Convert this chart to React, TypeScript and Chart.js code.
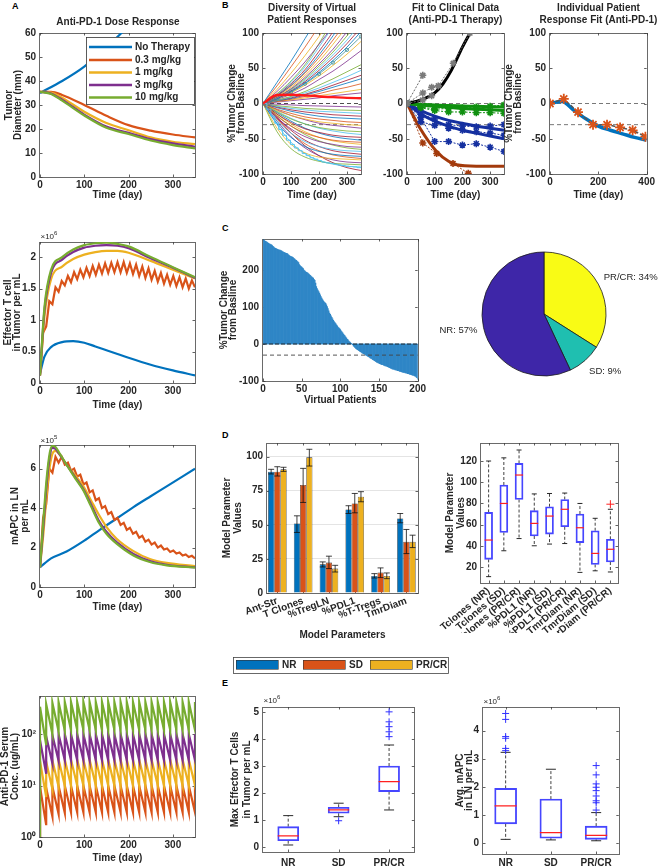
import React, { useEffect, useRef } from 'react';
import { Chart, registerables } from 'chart.js';

Chart.register(...registerables);

const FONT = '"Liberation Sans", Arial, Helvetica, sans-serif';
const INK = '#262626';
Chart.defaults.font.family = FONT;
Chart.defaults.font.size = 10;
Chart.defaults.font.weight = 'bold';
Chart.defaults.color = INK;
Chart.defaults.plugins.legend.display = false;
Chart.defaults.plugins.tooltip.enabled = false;

/* ===================== DATA ===================== */
// Panel A
const doseLabels = ['No Therapy', '0.3 mg/kg', '1 mg/kg', '3 mg/kg', '10 mg/kg'];
const doseColors = ['#0072BD', '#D95319', '#EDB120', '#7E2F8E', '#77AC30'];
const tumorDaysNoTx = [0, 50, 100, 150, 200, 250, 300, 350];
const tumorNoTherapy = [35, 40, 46, 54, 63, 73, 84, 96];
const tumorDays = [0, 25, 50, 100, 150, 200, 250, 300, 350];
const tumor03 = [35.5, 35.5, 34.2, 30, 25.5, 21.6, 19.3, 17.7, 16.5];
const tumor1 = [35.5, 35.2, 33, 27.2, 22.5, 19.5, 16.5, 14.7, 13.7];
const tumor3 = [35.5, 34.8, 32.2, 26, 21, 18.4, 15.8, 14, 12.6];
const tumor10 = [35.5, 34.6, 31.8, 25.6, 20.5, 17.9, 15.2, 13.3, 11.9];

const effDays = [0, 10, 25, 50, 75, 100, 125, 150, 175, 200, 250, 300, 350];
const effNoTherapy = [0.15, 0.42, 0.57, 0.65, 0.665, 0.64, 0.58, 0.52, 0.46, 0.4, 0.29, 0.2, 0.12];
const eff1 = [0.12, 1.05, 1.65, 1.85, 1.97, 2.04, 2.08, 2.1, 2.1, 2.07, 1.94, 1.8, 1.66];
const eff3 = [0.12, 1.15, 1.75, 1.96, 2.08, 2.15, 2.18, 2.19, 2.18, 2.14, 1.98, 1.83, 1.67];
const eff10 = [0.12, 1.2, 1.8, 2.0, 2.12, 2.19, 2.22, 2.23, 2.21, 2.17, 2.0, 1.84, 1.68];
const weekDays = [0, 7, 14, 21, 28, 35, 42, 49, 56, 63, 70, 77, 84, 91, 98, 105, 112, 119, 126, 133, 140, 147, 154, 161, 168, 175, 182, 189, 196, 203, 210, 217, 224, 231, 238, 245, 252, 259, 266, 273, 280, 287, 294, 301, 308, 315, 322, 329, 336, 343, 350];
const eff03 = [0.12, 0.8, 0.9, 1.3, 1.25, 1.52, 1.45, 1.62, 1.55, 1.7, 1.6, 1.76, 1.65, 1.8, 1.68, 1.83, 1.7, 1.86, 1.72, 1.88, 1.74, 1.9, 1.75, 1.91, 1.76, 1.92, 1.76, 1.92, 1.75, 1.9, 1.73, 1.88, 1.7, 1.85, 1.67, 1.82, 1.64, 1.78, 1.61, 1.75, 1.58, 1.72, 1.56, 1.7, 1.54, 1.68, 1.52, 1.66, 1.5, 1.63, 1.52];

const apcDaysNoTx = [0, 25, 60, 100, 135, 175, 211, 250, 286, 350];
const apcNoTherapy = [1.0, 1.45, 1.8, 2.35, 2.9, 3.5, 4.05, 4.6, 5.1, 6.0];
const apcDays = [0, 8, 15, 22, 28, 35, 45, 60, 80, 98, 115, 132, 150, 173, 211, 248, 286, 350];
const apc1 = [1.0, 2.8, 4.7, 6.1, 6.75, 6.9, 6.7, 6.2, 5.65, 5.1, 4.4, 3.7, 3.05, 2.45, 1.82, 1.42, 1.22, 1.06];
const apc3 = [1.0, 3.2, 5.2, 6.6, 7.05, 7.0, 6.7, 6.2, 5.55, 4.95, 4.2, 3.4, 2.8, 2.28, 1.68, 1.32, 1.13, 1.0];
const apc10 = [1.0, 3.5, 5.5, 6.8, 7.15, 7.1, 6.75, 6.2, 5.5, 4.9, 4.1, 3.3, 2.7, 2.2, 1.6, 1.27, 1.1, 0.98];
const apc03 = [1.0, 3.5, 4.2, 6.0, 5.8, 6.6, 6.3, 6.6, 6.2, 6.3, 5.9, 6.0, 5.6, 5.7, 5.2, 5.3, 4.8, 4.9, 4.4, 4.5, 4.0, 4.1, 3.7, 3.8, 3.4, 3.5, 3.15, 3.25, 2.9, 3.0, 2.7, 2.8, 2.5, 2.6, 2.3, 2.4, 2.15, 2.25, 2.0, 2.1, 1.9, 1.95, 1.78, 1.85, 1.7, 1.75, 1.6, 1.65, 1.52, 1.58, 1.45];

const serumDoseDays = [0, 14, 28, 42, 56, 70, 84, 98, 112, 126, 140, 154, 168, 182, 196, 210, 224, 238, 252, 266, 280, 294, 308, 322, 336, 350];
const serumStart = 1;
const serumPeak03 = [9.5, 9, 9.5, 9.8, 10, 10, 10, 10, 10, 10, 10, 10, 10, 10, 10, 10, 10, 10, 10, 10, 10, 10, 10, 10, 10, 10];
const serumTrough03 = [1.7, 2.5, 2.8, 2.95, 3, 3, 3, 3, 3, 3, 3, 3, 3, 3, 3, 3, 3, 3, 3, 3, 3, 3, 3, 3, 3];
const serumPeak1 = [30, 29, 31, 32, 32, 32, 32, 32, 32, 32, 32, 32, 32, 32, 32, 32, 32, 32, 32, 32, 32, 32, 32, 32, 32, 32];
const serumTrough1 = [6, 8.5, 9.5, 9.8, 10, 10, 10, 10, 10, 10, 10, 10, 10, 10, 10, 10, 10, 10, 10, 10, 10, 10, 10, 10, 10];
const serumPeak3 = [76, 90, 96, 99, 100, 100, 100, 100, 100, 100, 100, 100, 100, 100, 100, 100, 100, 100, 100, 100, 100, 100, 100, 100, 100, 100];
const serumTrough3 = [17, 27, 30, 31, 31, 31, 31, 31, 31, 31, 31, 31, 31, 31, 31, 31, 31, 31, 31, 31, 31, 31, 31, 31, 31];
const serumPeak10 = [340, 380, 405, 415, 420, 420, 420, 420, 420, 420, 420, 420, 420, 420, 420, 420, 420, 420, 420, 420, 420, 420, 420, 420, 420, 420];
const serumTrough10 = [61, 100, 112, 117, 120, 120, 120, 120, 120, 120, 120, 120, 120, 120, 120, 120, 120, 120, 120, 120, 120, 120, 120, 120, 120];

// Panel B
const mColors = ['#0072BD', '#D95319', '#EDB120', '#7E2F8E', '#77AC30', '#4DBEEE', '#A2142F'];
const b1Days = [0, 50, 100, 150, 200, 250, 300, 350];
const b1Growth = [
  [0, 30, 60, 92, 125, 160, 195, 230],
  [0, 25, 52, 80, 110, 142, 175, 210],
  [0, 20, 43, 68, 95, 124, 155, 188],
  [0, 17, 37, 59, 84, 110, 138, 168],
  [0, 14, 32, 55, 85, 120, 160, 205],
  [0, 13, 30, 52, 80, 110, 145, 185],
  [0, 12, 28, 48, 74, 102, 135, 170],
  [0, 11, 26, 45, 69, 96, 127, 160],
  [0, 11, 25, 43, 65, 90, 118, 150],
  [0, 10, 23, 40, 60, 84, 110, 140],
  [0, 9, 21, 37, 56, 77, 102, 130],
  [0, 9, 20, 35, 53, 73, 96, 122],
  [0, 8, 19, 33, 50, 69, 90, 115],
  [0, 8, 18, 31, 47, 65, 85, 108],
  [0, 7, 17, 29, 44, 61, 80, 102],
  [0, 7, 16, 28, 42, 58, 76, 95],
  [0, 7, 15, 26, 39, 54, 70, 88],
  [0, 6, 13, 22, 34, 46, 60, 75],
  [0, 5, 10, 17, 26, 35, 45, 55],
  [0, 4, 9, 15, 22, 30, 38, 47],
  [0, 4, 8, 13, 19, 26, 33, 40],
  [0, 4, 7, 12, 17, 23, 29, 35],
  [0, 3, 6, 10, 14, 19, 23, 28],
  [0, 3, 5, 8, 11, 14, 17, 20],
  [0, 2, 4, 6, 8, 11, 13, 15],
];
const b1Decay = [
  [0, -1, -2, -3, -3.5, -4, -4.5, -5],
  [0, -3, -5, -7, -8, -9, -9.5, -10],
  [0, -4, -7, -9, -11, -12, -13, -14],
  [0, -5, -9, -12, -14, -16, -17, -18],
  [0, -6, -11, -15, -18, -20, -21, -22],
  [0, -8, -14, -19, -22, -24, -26, -27],
  [0, -10, -17, -22, -26, -28, -30, -31],
  [0, -9, -17, -23, -28, -31, -33, -35],
  [0, -12, -22, -29, -34, -37, -39, -40],
  [0, -11, -21, -29, -35, -39, -42, -44],
  [0, -15, -27, -36, -41, -45, -47, -48],
  [0, -13, -25, -35, -42, -47, -50, -52],
  [0, -18, -32, -42, -48, -52, -54, -55],
  [0, -15, -29, -40, -48, -53, -56, -58],
  [0, -20, -36, -47, -54, -58, -61, -62],
  [0, -17, -32, -44, -53, -59, -63, -65],
  [0, -24, -42, -54, -61, -65, -67, -68],
  [0, -20, -38, -52, -61, -67, -70, -72],
  [0, -28, -48, -61, -68, -72, -74, -75],
  [0, -22, -42, -57, -67, -73, -76, -78],
  [0, -35, -58, -70, -76, -78, -79, -80],
  [0, -25, -47, -63, -74, -80, -83, -84],
  [0, -40, -64, -76, -82, -85, -86, -87],
  [0, -30, -55, -71, -81, -86, -89, -90],
  [0, -20, -42, -60, -74, -84, -91, -95],
];
const b1Stair = [0, -8, -18, -28, -37, -45, -52, -58, -63, -67, -71, -74, -77, -79, -81, -83, -84, -85, -86, -87, -88, -89, -89.5, -90, -91, -91.5];
const b1Typical = [0, 12, 12.5, 11.5, 10, 9, 8, 7.5];
const refDays350 = [0, 350];
const refDays400 = [0, 400];
const refZero = [0, 0];
const refPR = [-30, -30];

const b2Days = [0, 50, 100, 150, 200, 250, 300, 350];
const b2BlackT = [0, 50, 100, 130, 160, 200, 230];
const b2Black = [0, 5, 15, 28, 47, 80, 102];
const b2GrayAT = [0, 57];
const b2GrayA = [0, 40];
const b2GrayBT = [0, 57, 89, 113, 167, 227];
const b2GrayB = [0, 15, 23, 25, 57, 100];
const b2GrayCT = [0, 57, 89];
const b2GrayC = [0, 5, 11];
const b2GreenModelA = [0, -2, -4, -5.5, -7, -8, -9, -10];
const b2GreenModelB = [0, -1, -2, -3, -3.5, -4, -4.5, -5];
const b2GreenDataA = [0, -5, -8, -7, -6, -5, -4, -2];
const b2GreenDataB = [0, -6, -10, -12, -12, -13, -13, -14];
const b2BlueModelA = [0, -15, -25, -32, -38, -42, -46, -50];
const b2BlueModelB = [0, -10, -18, -24, -28, -32, -35, -38];
const b2BlueDataA = [0, -26, -31, -30, -32, -33, -32, -30];
const b2BlueDataB = [0, -20, -54, -54, -59, -57, -62, -68];
const b2BlueDataC = [0, -15, -22, -35, -38, -40, -42, -45];
const b2BrownModelT = [0, 47, 107, 150, 179, 250, 350];
const b2BrownModel = [0, -35, -68, -82, -87, -89, -89];
const b2BrownDataT = [0, 57, 107, 166, 221];
const b2BrownData = [0, -56, -71, -85, -99];

const b3ModelT = [0, 50, 100, 150, 200, 250, 300, 350, 400];
const b3Model = [0, 3, -10, -22, -32, -38, -43, -48, -52];
const b3DataT = [0, 57, 116, 178, 236, 290, 342, 395];
const b3Data = [0, 6.6, -12.3, -30, -30, -34, -38, -47];

// Panel C
const waterfall = [
  282, 280, 278, 277, 276, 274, 272, 271, 270, 269,
  268, 266, 264, 262, 260, 259, 258, 257, 256, 255,
  254, 254, 253, 252, 250, 249, 248, 247, 246, 245,
  245, 243, 241, 239, 238, 237, 236, 235, 234, 232,
  230, 228, 226, 224, 222, 220, 215, 212, 210, 208,
  206, 204, 200, 198, 196, 194, 193, 192, 190, 188,
  186, 184, 182, 180, 178, 175, 172, 165, 155, 150,
  146, 142, 138, 133, 128, 124, 120, 117, 114, 112,
  110, 106, 101, 96, 90, 84, 80, 76, 72, 68,
  64, 61, 58, 55, 52, 49, 46, 44, 42, 39,
  36, 33, 30, 27, 24, 22, 19, 16, 13, 11,
  8, 6, 4, 2, 0, -2, -5, -7, -10, -12,
  -13, -15, -16, -18, -19, -21, -22, -24, -25, -26,
  -27, -28, -30, -31, -32, -34, -35, -36, -38, -39,
  -40, -42, -43, -45, -46, -48, -49, -50, -51, -52,
  -53, -54, -55, -56, -56, -57, -58, -59, -59, -60,
  -61, -62, -63, -64, -65, -66, -67, -68, -68, -69,
  -70, -70, -71, -72, -72, -73, -74, -74, -75, -76,
  -76, -77, -77, -78, -78, -79, -80, -80, -81, -82,
  -82, -83, -84, -84, -85, -86, -87, -89, -91, -95,
];
const refDays200 = [0, 200];
const pieLabels = ['PR/CR', 'SD', 'NR'];
const pieValues = [34, 9, 57];
const pieColors = ['#F9FB15', '#1FBFB0', '#3E26A8'];

// Panel D
const paramNames = ['Ant-Str', 'T Clones', '%TregLN', '%PDL1', '%T-Tregs', 'TmrDiam'];
const paramPos = [1, 2, 3, 4, 5, 6];
const groupNames = ['NR', 'SD', 'PR/CR'];
const groupColors = ['#0072BD', '#D95319', '#EDB120'];
const barsNR = [89, 51, 21, 61.3, 12.5, 54.7];
const barsSD = [89, 79.2, 22.3, 65.7, 15, 37.5];
const barsPR = [90.7, 99.5, 17.9, 70.6, 12.5, 37.5];
const errLoNR = [87.3, 44.4, 19.1, 58.3, 11, 51.5];
const errHiNR = [90.7, 56.6, 22.8, 64, 14.2, 58.3];
const errLoSD = [85.8, 66.4, 17.9, 58.8, 11.3, 28.9];
const errHiSD = [92.6, 91.4, 27, 73, 18.4, 46.6];
const errLoPR = [89.2, 93.1, 15.4, 66.9, 10.5, 33.3];
const errHiPR = [92.2, 105.4, 20.3, 74.3, 14.7, 42.4];

const boxNames = ['Tclones (NR)', 'Tclones (SD)', 'Tclones (PR/CR)', '%PDL1 (NR)', '%PDL1 (SD)', '%PDL1 (PR/CR)', 'TmrDiam (NR)', 'TmrDiam (SD)', 'TmrDiam (PR/CR)'];
const dBoxHi = [120, 123, 130.4, 89, 89.4, 89.8, 80, 66, 74.5];
const dBoxQ3 = [71.6, 97.4, 117.8, 73.2, 76.9, 83.7, 70, 54.3, 46.2];
const dBoxMed = [45.5, 80, 106.8, 61.2, 68.1, 74.5, 57.1, 32.9, 36.8];
const dBoxQ1 = [27.3, 52.7, 83.7, 49.3, 51.1, 58, 43.1, 22.5, 24.8];
const dBoxLo = [11, 35.4, 46.9, 40.1, 41.7, 42.2, 15, 16.5, 15.4];
const dBoxOutX = [9];
const dBoxOutY = [79.3];

// Panel E
const eTHi = [1.16, 1.62, 3.78];
const eTQ3 = [0.75, 1.47, 3.0];
const eTMed = [0.41, 1.37, 2.42];
const eTQ1 = [0.23, 1.25, 2.05];
const eTLo = [0.07, 1.12, 1.37];
const eTOutX = [2, 3, 3, 3, 3, 3];
const eTOutY = [0.97, 4.09, 4.27, 4.46, 4.64, 5.01];
const eAHi = [3.23, 2.63, 1.09];
const eAQ3 = [1.95, 1.57, 0.61];
const eAMed = [1.33, 0.38, 0.28];
const eAQ1 = [0.69, 0.18, 0.14];
const eALo = [0.14, 0.12, 0.09];
const eAOutX = [1, 1, 1, 1, 1, 1, 3, 3, 3, 3, 3, 3, 3, 3, 3];
const eAOutY = [3.29, 3.37, 3.73, 3.79, 4.4, 4.61, 1.18, 1.44, 1.51, 1.68, 1.87, 1.99, 2.11, 2.43, 2.76];

/* ===================== HELPERS ===================== */
const xy = (xs: number[], ys: (number | null)[]) => xs.map((x, i) => ({ x, y: ys[i] }));
const line = (data: any[], color: string, width: number, extra: any = {}) => ({
  type: 'line', data, borderColor: color, backgroundColor: color, borderWidth: width,
  pointRadius: 0, pointHitRadius: 0, fill: false, ...extra,
});
function sawtooth(days: number[], peaks: number[], troughs: number[], start: number) {
  const pts: any[] = [{ x: days[0], y: start }];
  days.forEach((d, i) => {
    if (i > 0) pts.push({ x: d, y: troughs[i - 1] });
    pts.push({ x: d, y: peaks[i] });
  });
  return pts;
}
const sci = (x: number, y: number, e: string) => [
  { text: '\u00d710', x, y, align: 'left', baseline: 'alphabetic', font: `8px ${FONT}` },
  { text: e, x: x + 13.6, y: y - 4, align: 'left', baseline: 'alphabetic', font: `6px ${FONT}` },
];

const framePlugin = {
  id: 'frame',
  beforeDatasetsDraw(chart: any) {
    const xs = chart.scales.x, ys = chart.scales.y;
    if (!xs || !ys) return;
    const { ctx, chartArea: a } = chart;
    ctx.save();
    ctx.strokeStyle = '#6a6a6a';
    ctx.lineWidth = 1;
    ctx.strokeRect(Math.round(a.left) - 0.5, Math.round(a.top) + 0.5, Math.round(a.right - a.left) + 1, Math.round(a.bottom - a.top));
    ctx.strokeStyle = '#3a3a3a';
    ctx.lineWidth = 0.8;
    const L = 2.5;
    ctx.beginPath();
    xs.ticks.forEach((t: any) => {
      const p = Math.round(xs.getPixelForValue(t.value)) + 0.5;
      ctx.moveTo(p, a.bottom); ctx.lineTo(p, a.bottom - L);
      ctx.moveTo(p, a.top); ctx.lineTo(p, a.top + L);
    });
    ys.ticks.forEach((t: any) => {
      const p = Math.round(ys.getPixelForValue(t.value)) + 0.5;
      ctx.moveTo(a.left, p); ctx.lineTo(a.left + L, p);
      ctx.moveTo(a.right, p); ctx.lineTo(a.right - L, p);
    });
    ctx.stroke();
    ctx.restore();
  },
};
Chart.register(framePlugin);

const textPlugin = (items: any[], ox: number, oy: number) => ({
  id: 'texts',
  afterDraw(chart: any) {
    const ctx = chart.ctx;
    items.forEach((it) => {
      ctx.save();
      ctx.font = it.font || `bold 10px ${FONT}`;
      ctx.fillStyle = it.color || INK;
      ctx.textAlign = it.align || 'center';
      ctx.textBaseline = it.baseline || 'middle';
      ctx.fillText(it.text, it.x - ox, it.y - oy);
      ctx.restore();
    });
  },
});

function axisOpts(a: any, isX: boolean, fit: number, bottomEdge: number, canvasLeft: number) {
  const o: any = {
    type: a.type || 'linear', min: a.min, max: a.max, offset: false, bounds: 'data',
    afterBuildTicks: (sc: any) => { sc.ticks = a.ticks.map((v: number) => ({ value: v })); },
    afterFit: (sc: any) => { if (isX) sc.height = fit; else sc.width = fit; },
    grid: a.grid ? { display: true, color: '#e4e4e4', lineWidth: 1, drawTicks: false } : { display: false, drawTicks: false },
    border: { display: false },
    ticks: {
      padding: a.tickPad ?? (isX ? 2 : 4), autoSkip: false,
      minRotation: a.rot || 0, maxRotation: a.rot || 0, color: INK,
      font: { family: FONT, size: 10, weight: 'bold' },
      callback: a.labels || ((v: number) => String(v)),
    },
  };
  if (a.title) {
    if (isX) {
      o.title = { display: true, text: a.title, color: INK, font: { family: FONT, size: 10, weight: 'bold', lineHeight: 1.1 }, padding: { top: 0, bottom: Math.max(0, bottomEdge - a.titleY - 5.5) } };
    } else {
      const lh = a.titleSpacing || 10;
      o.title = { display: true, text: a.title, color: INK, font: { family: FONT, size: 10, weight: 'bold', lineHeight: lh / 10 }, padding: { top: a.titleLine1 - canvasLeft - lh / 2, bottom: 0 } };
    }
  }
  return o;
}

function cart(s: any) {
  const [px, py, pw, ph] = s.plot;
  const [l, t, r, b] = s.pad;
  const eb = s.extraBottom || 0;
  const left = px - l, top = py - t;
  const width = pw + l + r, height = ph + t + b + eb;
  return {
    key: s.key, left, top, width, height,
    make: () => {
      const plugins: any[] = s.plugins ? s.plugins(left, top) : [];
      if (s.texts) plugins.push(textPlugin(s.texts, left, top));
      return {
        type: s.type || 'line',
        data: { datasets: s.datasets() },
        options: {
          responsive: false, animation: false, events: [],
          layout: { padding: { left: 0, top: t, right: r, bottom: eb } },
          scales: { x: axisOpts(s.x, true, b, py + ph + b, left), y: axisOpts(s.y, false, l, 0, left) },
          plugins: { legend: { display: false }, tooltip: { enabled: false } },
        },
        plugins,
      };
    },
  };
}

function boxSets(q1: number[], q3: number[], med: number[], lo: number[], hi: number[], ox: number[], oy: number[], boxW: number, capR: number, outColor: string, outR: number) {
  const cats = q1.map((_, i) => i + 1);
  const whisk: any[] = [];
  const caps: any[] = [];
  cats.forEach((c, i) => {
    whisk.push({ x: c, y: q3[i] }, { x: c, y: hi[i] }, { x: c, y: null }, { x: c, y: q1[i] }, { x: c, y: lo[i] }, { x: c, y: null });
    caps.push({ x: c, y: hi[i] }, { x: c, y: lo[i] });
  });
  return [
    { type: 'bar', data: cats.map((c, i) => ({ x: c, y: [q1[i], q3[i]] })), backgroundColor: 'rgba(0,0,0,0)', borderColor: '#4646ff', borderWidth: 1.2, borderSkipped: false, barThickness: boxW, order: 3 },
    line(whisk, '#111', 0.8, { borderDash: [3, 2], order: 4 }),
    line(caps, '#111', 0.8, { showLine: false, pointStyle: 'line', pointRadius: capR, pointBorderColor: '#111', pointBorderWidth: 0.9, order: 2 }),
    line(cats.map((c, i) => ({ x: c, y: med[i] })), '#ff2020', 1.2, { showLine: false, pointStyle: 'line', pointRadius: boxW / 2, pointBorderColor: '#ff2020', pointBorderWidth: 1.2, order: 1 }),
    line(xy(ox, oy), outColor, 1, { showLine: false, pointStyle: 'cross', pointRadius: outR, pointBorderColor: outColor, pointBorderWidth: 1, order: 0 }),
  ];
}

/* ===================== PLUGINS ===================== */
const legendA1 = (ox: number, oy: number) => [{
  id: 'legA1',
  afterDraw(chart: any) {
    const ctx = chart.ctx;
    ctx.save();
    ctx.fillStyle = '#fff';
    ctx.fillRect(86 - ox, 37 - oy, 108, 67);
    ctx.strokeStyle = '#333';
    ctx.lineWidth = 0.8;
    ctx.strokeRect(86.5 - ox, 37.5 - oy, 108, 67);
    const rows = [47, 60, 72.5, 85, 97.5];
    chart.data.datasets.forEach((d: any, i: number) => {
      const y = rows[i] - oy;
      ctx.strokeStyle = d.borderColor;
      ctx.lineWidth = 2.5;
      ctx.beginPath(); ctx.moveTo(89 - ox, y); ctx.lineTo(132 - ox, y); ctx.stroke();
      ctx.fillStyle = INK;
      ctx.font = `bold 10px ${FONT}`;
      ctx.textAlign = 'left';
      ctx.textBaseline = 'middle';
      ctx.fillText(d.label, 135 - ox, y);
    });
    ctx.restore();
  },
}];

const dBarPlugins = (ox: number, oy: number) => [
  {
    id: 'errbars',
    afterDatasetsDraw(chart: any) {
      const ctx = chart.ctx, ys = chart.scales.y;
      const lo = [errLoNR, errLoSD, errLoPR], hi = [errHiNR, errHiSD, errHiPR];
      ctx.save();
      ctx.strokeStyle = '#111';
      ctx.lineWidth = 0.8;
      lo.forEach((arr, d) => {
        chart.getDatasetMeta(d).data.forEach((el: any, j: number) => {
          const x = el.x, w = 3;
          const y0 = ys.getPixelForValue(arr[j]), y1 = ys.getPixelForValue(hi[d][j]);
          ctx.beginPath();
          ctx.moveTo(x, y0); ctx.lineTo(x, y1);
          ctx.moveTo(x - w, y0); ctx.lineTo(x + w, y0);
          ctx.moveTo(x - w, y1); ctx.lineTo(x + w, y1);
          ctx.stroke();
        });
      });
      ctx.restore();
    },
  },
  {
    id: 'legD',
    afterDraw(chart: any) {
      const ctx = chart.ctx;
      ctx.save();
      ctx.fillStyle = '#fff';
      ctx.fillRect(233 - ox, 657 - oy, 215, 16);
      ctx.strokeStyle = '#444';
      ctx.lineWidth = 0.8;
      ctx.strokeRect(233.5 - ox, 657.5 - oy, 215, 16);
      const px = [236, 303, 370], tx = [282, 349, 416];
      chart.data.datasets.forEach((d: any, i: number) => {
        ctx.fillStyle = d.backgroundColor;
        ctx.fillRect(px[i] - ox, 660 - oy, 42, 9);
        ctx.strokeStyle = '#333';
        ctx.lineWidth = 0.6;
        ctx.strokeRect(px[i] - ox + 0.5, 660 - oy + 0.5, 42, 9);
        ctx.fillStyle = INK;
        ctx.font = `bold 10px ${FONT}`;
        ctx.textAlign = 'left';
        ctx.textBaseline = 'middle';
        ctx.fillText(d.label, tx[i] - ox, 665 - oy);
      });
      ctx.restore();
    },
  },
];

const pieLabelPlugin = {
  id: 'pieLabels',
  afterDraw(chart: any) {
    const meta = chart.getDatasetMeta(0);
    const ctx = chart.ctx;
    const ds = chart.data.datasets[0];
    const labels = chart.data.labels;
    meta.data.forEach((arc: any, i: number) => {
      const a = (arc.startAngle + arc.endAngle) / 2;
      const R = arc.outerRadius * 1.1;
      const dx = Math.cos(a), dy = Math.sin(a);
      const x = arc.x + dx * R, y = arc.y + dy * R + 8 * dy;
      ctx.save();
      ctx.font = `9.5px ${FONT}`;
      ctx.fillStyle = INK;
      ctx.textAlign = dx >= 0 ? 'left' : 'right';
      ctx.textBaseline = 'middle';
      ctx.fillText(`${labels[i]}: ${ds.data[i]}%`, x, y);
      ctx.restore();
    });
  },
};

/* ===================== PANELS ===================== */
const timeX = { min: 0, max: 350, ticks: [0, 100, 200, 300] };
const smooth = { cubicInterpolationMode: 'monotone' };
const refLine = (xs: number[], ys: number[], color: string) => line(xy(xs, ys), color, 0.8, { borderDash: [4, 3], order: 50 });

const specs: any[] = [
  cart({
    key: 'a1', plot: [40, 33, 155, 144], pad: [40, 21, 8, 25],
    x: { ...timeX, title: 'Time (day)', titleY: 195 },
    y: { min: 0, max: 60, ticks: [0, 10, 20, 30, 40, 50, 60], title: ['Tumor', 'Diameter (mm)'], titleLine1: 9, titleSpacing: 9 },
    texts: [{ text: 'Anti-PD-1 Dose Response', x: 118, y: 22 }],
    plugins: legendA1,
    datasets: () => [
      line(xy(tumorDaysNoTx, tumorNoTherapy), doseColors[0], 2.2, { label: doseLabels[0], order: 5, ...smooth }),
      line(xy(tumorDays, tumor03), doseColors[1], 2.2, { label: doseLabels[1], order: 4, ...smooth }),
      line(xy(tumorDays, tumor1), doseColors[2], 2.2, { label: doseLabels[2], order: 3, ...smooth }),
      line(xy(tumorDays, tumor3), doseColors[3], 2.2, { label: doseLabels[3], order: 2, ...smooth }),
      line(xy(tumorDays, tumor10), doseColors[4], 2.2, { label: doseLabels[4], order: 1, ...smooth }),
    ],
  }),
  cart({
    key: 'a2', plot: [40, 242, 155, 141], pad: [40, 14, 8, 29],
    x: { ...timeX, title: 'Time (day)', titleY: 405 },
    y: { min: 0, max: 2.24, ticks: [0, 0.5, 1, 1.5, 2], title: ['Effector T cell', 'in Tumor per mL'], titleLine1: 8, titleSpacing: 9 },
    texts: sci(40.5, 239, '6'),
    datasets: () => [
      line(xy(effDays, effNoTherapy), doseColors[0], 2.2, { order: 5, ...smooth }),
      line(xy(weekDays, eff03), doseColors[1], 2.2, { order: 4 }),
      line(xy(effDays, eff1), doseColors[2], 2.2, { order: 3, ...smooth }),
      line(xy(effDays, eff3), doseColors[3], 2.2, { order: 2, ...smooth }),
      line(xy(effDays, eff10), doseColors[4], 2.2, { order: 1, ...smooth }),
    ],
  }),
  cart({
    key: 'a3', plot: [40, 445, 155, 142], pad: [40, 14, 8, 27],
    x: { ...timeX, title: 'Time (day)', titleY: 607 },
    y: { min: 0, max: 7.2, ticks: [0, 2, 4, 6], title: ['mAPC in LN', 'per mL'], titleLine1: 15, titleSpacing: 10 },
    texts: sci(40.5, 442.5, '5'),
    datasets: () => [
      line(xy(apcDaysNoTx, apcNoTherapy), doseColors[0], 2.2, { order: 5, ...smooth }),
      line(xy(weekDays, apc03), doseColors[1], 2.2, { order: 4 }),
      line(xy(apcDays, apc1), doseColors[2], 2.2, { order: 3, ...smooth }),
      line(xy(apcDays, apc3), doseColors[3], 2.2, { order: 2, ...smooth }),
      line(xy(apcDays, apc10), doseColors[4], 2.2, { order: 1, ...smooth }),
    ],
  }),
  cart({
    key: 'a4', plot: [40, 696, 155, 141], pad: [40, 10, 8, 28],
    x: { ...timeX, title: 'Time (day)', titleY: 858 },
    y: {
      type: 'logarithmic', min: 1, max: 550, ticks: [1, 10, 100],
      labels: (v: number) => (({ 1: '10\u2070', 10: '10\u00b9', 100: '10\u00b2' } as any)[v] || ''),
      title: ['Anti-PD-1 Serum', 'Conc. (ug/mL)'], titleLine1: 5.5, titleSpacing: 10,
    },
    datasets: () => [
      line(sawtooth(serumDoseDays, serumPeak03, serumTrough03, serumStart), doseColors[1], 2.2, { order: 4 }),
      line(sawtooth(serumDoseDays, serumPeak1, serumTrough1, serumStart), doseColors[2], 2.2, { order: 3 }),
      line(sawtooth(serumDoseDays, serumPeak3, serumTrough3, serumStart), doseColors[3], 2.2, { order: 2 }),
      line(sawtooth(serumDoseDays, serumPeak10, serumTrough10, serumStart), doseColors[4], 2.2, { order: 1 }),
    ],
  }),
  cart({
    key: 'b1', plot: [263, 33, 98, 141], pad: [41, 33, 6, 28],
    x: { ...timeX, title: 'Time (day)', titleY: 195 },
    y: { min: -100, max: 100, ticks: [-100, -50, 0, 50, 100], title: ['%Tumor Change', 'from Basline'], titleLine1: 232, titleSpacing: 9 },
    texts: [{ text: 'Diversity of Virtual', x: 312, y: 8.5 }, { text: 'Patient Responses', x: 312, y: 20.5 }],
    datasets: () => [
      refLine(refDays350, refZero, '#222'),
      refLine(refDays350, refPR, '#555'),
      ...b1Growth.map((v, i) => line(xy(b1Days, v), mColors[i % 7], 0.8, { order: 10, ...smooth, ...(i === 15 ? { pointRadius: 1.6, pointStyle: 'circle', pointBorderWidth: 0.8, backgroundColor: 'rgba(0,0,0,0)', borderColor: '#3c8f95', pointBorderColor: '#3c8f95' } : {}) })),
      ...b1Decay.map((v, i) => line(xy(b1Days, v), mColors[(i + 3) % 7], 0.8, { order: 10, ...smooth })),
      line(xy(serumDoseDays, b1Stair), '#55c6f2', 1, { order: 9, stepped: 'before' }),
      line(xy(b1Days, b1Typical), '#ff1a1a', 2.4, { order: 8, ...smooth }),
    ],
  }),
  cart({
    key: 'b2', plot: [407, 33, 97, 141], pad: [30, 33, 6, 28],
    x: { ...timeX, title: 'Time (day)', titleY: 195 },
    y: { min: -100, max: 100, ticks: [-100, -50, 0, 50, 100] },
    texts: [{ text: 'Fit to Clinical Data', x: 455.5, y: 8.5 }, { text: '(Anti-PD-1 Therapy)', x: 455.5, y: 20.5 }],
    datasets: () => {
      const data = (c: string, mc: string) => ({ borderDash: [2, 1.5], pointStyle: 'star', pointRadius: 3.5, pointBorderWidth: 1.6, pointBorderColor: mc, order: 5 });
      return [
        refLine(refDays350, refZero, '#555'),
        refLine(refDays350, refPR, '#555'),
        line(xy(b2BlackT, b2Black), '#000', 3, { order: 10, ...smooth }),
        line(xy(b2GreenModelA, b2GreenModelA).map((p, i) => ({ x: b2Days[i], y: p.y })), '#109010', 3, { order: 10, ...smooth }),
        line(xy(b2Days, b2GreenModelB), '#109010', 3, { order: 10, ...smooth }),
        line(xy(b2Days, b2BlueModelA), '#1530a0', 3, { order: 10, ...smooth }),
        line(xy(b2Days, b2BlueModelB), '#1530a0', 3, { order: 10, ...smooth }),
        line(xy(b2BrownModelT, b2BrownModel), '#a33a0c', 3, { order: 10, ...smooth }),
        line(xy(b2GrayAT, b2GrayA), '#666', 1, data('#666', '#7a7a7a')),
        line(xy(b2GrayBT, b2GrayB), '#666', 1, data('#666', '#7a7a7a')),
        line(xy(b2GrayCT, b2GrayC), '#666', 1, data('#666', '#7a7a7a')),
        line(xy(b2Days, b2GreenDataA), '#109010', 1, data('#109010', '#109010')),
        line(xy(b2Days, b2GreenDataB), '#109010', 1, data('#109010', '#109010')),
        line(xy(b2Days, b2BlueDataA), '#1530a0', 1, data('#1530a0', '#1530a0')),
        line(xy(b2Days, b2BlueDataB), '#1530a0', 1, data('#1530a0', '#1530a0')),
        line(xy(b2Days, b2BlueDataC), '#1530a0', 1, data('#1530a0', '#1530a0')),
        line(xy(b2BrownDataT, b2BrownData), '#a33a0c', 1, data('#a33a0c', '#a33a0c')),
      ];
    },
  }),
  cart({
    key: 'b3', plot: [550, 33, 97, 141], pad: [50, 33, 10, 28],
    x: { min: 0, max: 400, ticks: [0, 200, 400], title: 'Time (day)', titleY: 195 },
    y: { min: -100, max: 100, ticks: [-100, -50, 0, 50, 100], title: ['%Tumor Change', 'from Basline'], titleLine1: 509.5, titleSpacing: 9 },
    texts: [{ text: 'Individual Patient', x: 598.5, y: 8.5 }, { text: 'Response Fit (Anti-PD-1)', x: 598.5, y: 20.5 }],
    datasets: () => [
      refLine(refDays400, refZero, '#555'),
      refLine(refDays400, refPR, '#555'),
      line(xy(b3ModelT, b3Model), '#0072BD', 3.5, { order: 10, ...smooth }),
      line(xy(b3DataT, b3Data), '#555', 1.5, { order: 5, borderDash: [4, 2], pointStyle: 'star', pointRadius: 5, pointBorderWidth: 1.8, pointBorderColor: '#D95319' }),
    ],
  }),
  cart({
    key: 'c', type: 'bar', plot: [263, 239, 155, 142], pad: [49, 12, 10, 28],
    x: { min: 0, max: 200, ticks: [0, 50, 100, 150, 200], title: 'Virtual Patients', titleY: 400 },
    y: { min: -100, max: 284, ticks: [-100, 0, 100, 200], title: ['%Tumor Change', 'from Basline'], titleLine1: 224.5, titleSpacing: 9 },
    datasets: () => [
      { type: 'bar', data: xy(waterfall.map((_, i) => i + 1), waterfall), backgroundColor: '#2f86c6', borderWidth: 0, categoryPercentage: 1, barPercentage: 1, order: 10 },
      line(xy(refDays200, refZero), '#1a1a1a', 0.9, { borderDash: [4, 2], order: 1 }),
      line(xy(refDays200, refPR), '#444', 0.9, { borderDash: [4, 3], order: 1 }),
    ],
  }),
  {
    key: 'pie', left: 440, top: 240, width: 218, height: 150,
    make: () => ({
      type: 'pie',
      data: { labels: pieLabels, datasets: [{ data: pieValues, backgroundColor: pieColors, borderColor: '#1a1a1a', borderWidth: 0.8, radius: 62, hoverOffset: 0 }] },
      options: { responsive: false, animation: false, events: [], radius: 62, layout: { padding: { left: 0, top: 0, right: 10, bottom: 2 } }, plugins: { legend: { display: false }, tooltip: { enabled: false } } },
      plugins: [pieLabelPlugin],
    }),
  },
  cart({
    key: 'dbar', type: 'bar', plot: [267, 443, 151, 150], pad: [49, 14, 32, 48], extraBottom: 39,
    x: { min: 0.6, max: 6.45, ticks: paramPos, labels: (v: number) => paramNames[Math.round(v) - 1], rot: 20, title: 'Model Parameters', titleY: 636 },
    y: { min: 0, max: 110, ticks: [0, 25, 50, 75, 100], grid: true, title: ['Model Parameter', 'Values'], titleLine1: 227, titleSpacing: 11 },
    plugins: dBarPlugins,
    datasets: () => [barsNR, barsSD, barsPR].map((v, i) => ({
      type: 'bar', label: groupNames[i], data: xy(paramPos, v), backgroundColor: groupColors[i], borderColor: '#222', borderWidth: 0.6,
      categoryPercentage: 0.72, barPercentage: 1,
    })),
  }),
  cart({
    key: 'dbox', type: 'bar', plot: [481, 443, 137, 140], pad: [50, 12, 10, 50],
    x: { min: 0.5, max: 9.5, ticks: [1, 2, 3, 4, 5, 6, 7, 8, 9], labels: (v: number) => boxNames[Math.round(v) - 1], rot: 40 },
    y: { min: 5, max: 137, ticks: [20, 40, 60, 80, 100, 120], title: ['Model Parameter', 'Values'], titleLine1: 450, titleSpacing: 11 },
    datasets: () => boxSets(dBoxQ1, dBoxQ3, dBoxMed, dBoxLo, dBoxHi, dBoxOutX, dBoxOutY, 8, 2.5, '#ff2020', 4),
  }),
  cart({
    key: 'e1', type: 'bar', plot: [263, 707, 155, 145], pad: [39, 14, 8, 15],
    x: { min: 0.5, max: 3.5, ticks: [1, 2, 3], labels: (v: number) => groupNames[Math.round(v) - 1], tickPad: 5 },
    y: { min: -0.19, max: 5.19, ticks: [0, 1, 2, 3, 4, 5], title: ['Max Effector T Cells', 'in Tumor per mL'], titleLine1: 235, titleSpacing: 12 },
    texts: sci(263.5, 703, '6'),
    datasets: () => boxSets(eTQ1, eTQ3, eTMed, eTLo, eTHi, eTOutX, eTOutY, 21, 5, '#3030ff', 3.5),
  }),
  cart({
    key: 'e2', type: 'bar', plot: [483, 707, 140, 147], pad: [33, 14, 8, 13],
    x: { min: 0.5, max: 3.5, ticks: [1, 2, 3], labels: (v: number) => groupNames[Math.round(v) - 1], tickPad: 3 },
    y: { min: -0.38, max: 4.84, ticks: [0, 1, 2, 3, 4], title: ['Avg. mAPC', 'in LN per mL'], titleLine1: 460, titleSpacing: 9 },
    texts: sci(483.5, 704, '6'),
    datasets: () => boxSets(eAQ1, eAQ3, eAMed, eALo, eAHi, eAOutX, eAOutY, 22, 5, '#3030ff', 3.5),
  }),
];

const panelLetters = [
  { t: 'A', x: 12, y: 1 },
  { t: 'B', x: 222, y: 0 },
  { t: 'C', x: 222, y: 223 },
  { t: 'D', x: 222, y: 430 },
  { t: 'E', x: 222, y: 678 },
];

function ChartBox({ spec }: { spec: any }) {
  const ref = useRef<HTMLCanvasElement>(null);
  useEffect(() => {
    const c = new Chart(ref.current as HTMLCanvasElement, spec.make());
    return () => c.destroy();
  }, [spec]);
  return (
    <canvas
      ref={ref}
      width={spec.width}
      height={spec.height}
      style={{ position: 'absolute', left: spec.left, top: spec.top, width: spec.width, height: spec.height }}
    />
  );
}

export default function App() {
  return (
    <div style={{ position: 'absolute', left: 0, top: 0, width: 658, height: 867, background: '#fff', overflow: 'hidden', fontFamily: FONT }}>
      {panelLetters.map((p) => (
        <div key={p.t} style={{ position: 'absolute', left: p.x, top: p.y, font: `bold 9px ${FONT}`, lineHeight: '10px', color: '#000' }}>{p.t}</div>
      ))}
      {specs.map((s) => <ChartBox key={s.key} spec={s} />)}
    </div>
  );
}
